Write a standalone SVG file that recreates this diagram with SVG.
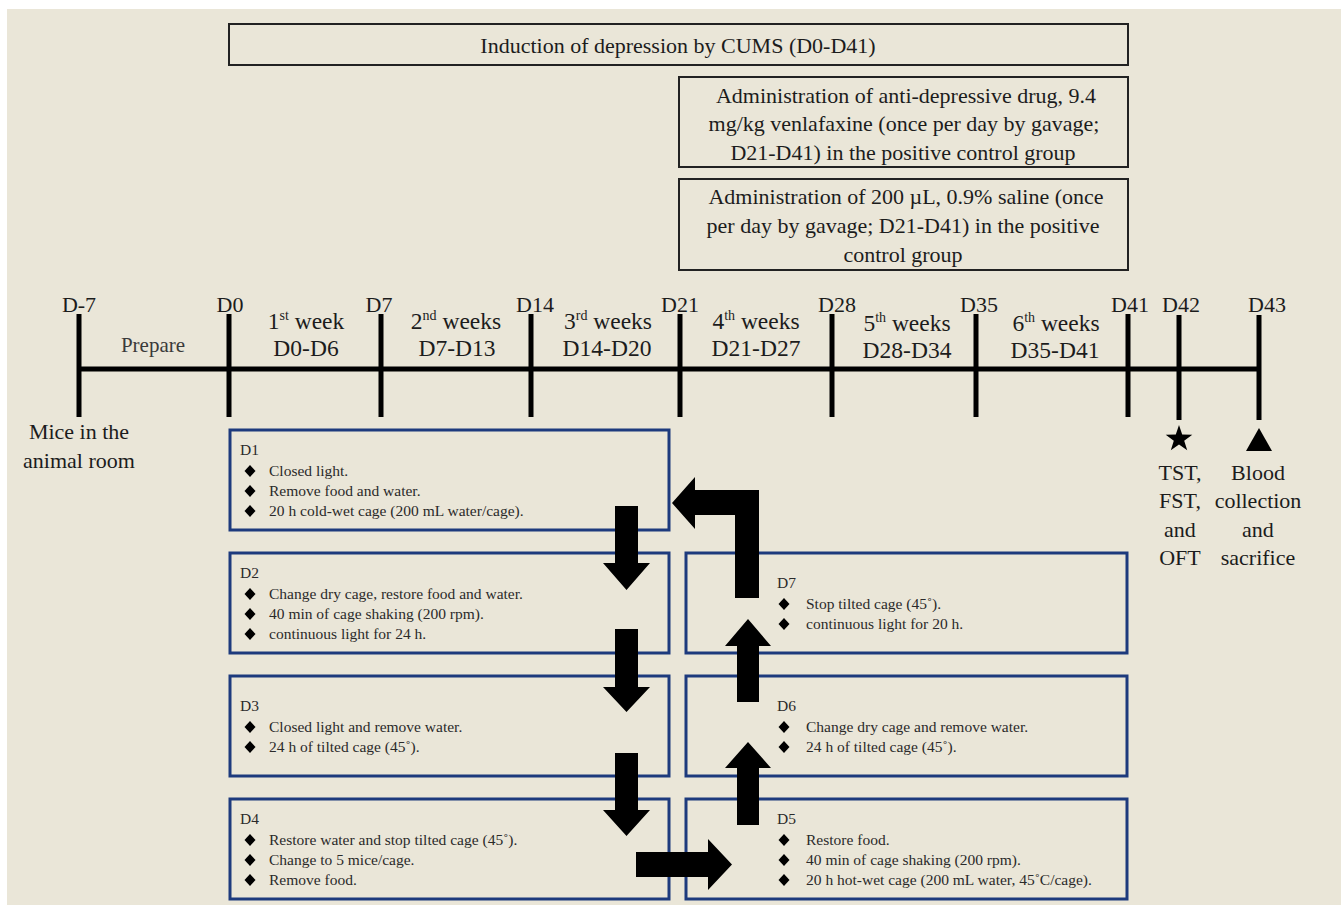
<svg xmlns="http://www.w3.org/2000/svg" width="1341" height="905" viewBox="0 0 1341 905">
<defs>
<style>
text{font-family:"Liberation Serif","Times New Roman",serif;fill:#1c1c1c}
.big{font-size:22px}
.wk{font-size:23.5px;text-anchor:middle}
.c{text-anchor:middle}
.sm{font-size:15.5px;fill:#2a2a2a}
.tbox{fill:none;stroke:#222;stroke-width:2}
.bbox{fill:none;stroke:#1d3a7d;stroke-width:3}
.tick{stroke:#000;stroke-width:5}
.arr{fill:#000}
</style>
<polygon id="dia" points="0,-6 5.5,0 0,6 -5.5,0" fill="#000"/>
</defs>
<rect x="0" y="0" width="1341" height="905" fill="#ffffff"/>
<rect x="7" y="9" width="1334" height="896" fill="#EAE6D8"/>

<g id="cums">
<rect class="tbox" x="229" y="24" width="899" height="41"/>
<text class="big c" x="678" y="53">Induction of depression by CUMS (D0-D41)</text>
</g>
<g id="drug">
<rect class="tbox" x="679" y="77" width="449" height="90"/>
<text class="big c" x="906" y="103">Administration of anti-depressive drug, 9.4</text>
<text class="big c" x="904" y="131">mg/kg venlafaxine (once per day by gavage;</text>
<text class="big c" x="903" y="160">D21-D41) in the positive control group</text>
</g>
<g id="saline">
<rect class="tbox" x="679" y="179" width="449" height="91"/>
<text class="big c" x="906" y="204">Administration of 200 µL, 0.9% saline (once</text>
<text class="big c" x="903" y="233">per day by gavage; D21-D41) in the positive</text>
<text class="big c" x="903" y="262">control group</text>
</g>

<g id="timeline">
<line class="tick" x1="79" y1="369" x2="1259" y2="369"/>
<line class="tick" x1="79" y1="314" x2="79" y2="417"/>
<line class="tick" x1="229" y1="314" x2="229" y2="417"/>
<line class="tick" x1="381" y1="314" x2="381" y2="417"/>
<line class="tick" x1="531" y1="314" x2="531" y2="417"/>
<line class="tick" x1="680" y1="314" x2="680" y2="417"/>
<line class="tick" x1="832" y1="314" x2="832" y2="417"/>
<line class="tick" x1="976" y1="314" x2="976" y2="417"/>
<line class="tick" x1="1128" y1="314" x2="1128" y2="417"/>
<line class="tick" x1="1179" y1="315" x2="1179" y2="420"/>
<line class="tick" x1="1259" y1="315" x2="1259" y2="420"/>
<text class="big c" x="79" y="312">D-7</text>
<text class="big c" x="230" y="312">D0</text>
<text class="big c" x="379" y="312">D7</text>
<text class="big c" x="535" y="312">D14</text>
<text class="big c" x="680" y="312">D21</text>
<text class="big c" x="837" y="312">D28</text>
<text class="big c" x="979" y="312">D35</text>
<text class="big c" x="1130" y="312">D41</text>
<text class="big c" x="1181" y="312">D42</text>
<text class="big c" x="1267" y="312">D43</text>
<text class="c" x="153" y="352" style="font-size:21px;fill:#3a3a3a">Prepare</text>
<text class="wk" x="306" y="329">1<tspan dy="-9" style="font-size:14px">st</tspan><tspan dy="9"> week</tspan></text>
<text class="wk" x="306" y="356">D0-D6</text>
<text class="wk" x="456" y="329">2<tspan dy="-9" style="font-size:14px">nd</tspan><tspan dy="9"> weeks</tspan></text>
<text class="wk" x="457" y="356">D7-D13</text>
<text class="wk" x="608" y="329">3<tspan dy="-9" style="font-size:14px">rd</tspan><tspan dy="9"> weeks</tspan></text>
<text class="wk" x="607" y="356">D14-D20</text>
<text class="wk" x="756" y="329">4<tspan dy="-9" style="font-size:14px">th</tspan><tspan dy="9"> weeks</tspan></text>
<text class="wk" x="756" y="356">D21-D27</text>
<text class="wk" x="907" y="331">5<tspan dy="-9" style="font-size:14px">th</tspan><tspan dy="9"> weeks</tspan></text>
<text class="wk" x="907" y="358">D28-D34</text>
<text class="wk" x="1056" y="331">6<tspan dy="-9" style="font-size:14px">th</tspan><tspan dy="9"> weeks</tspan></text>
<text class="wk" x="1055" y="358">D35-D41</text>
</g>

<g id="mice">
<text class="big c" x="79" y="439">Mice in the</text>
<text class="big c" x="79" y="468">animal room</text>
</g>
<g id="tests">
<polygon points="1179,425 1182.2,434.6 1192.3,434.7 1184.2,440.7 1187.2,450.3 1179,444.5 1170.8,450.3 1173.8,440.7 1165.7,434.7 1175.8,434.6" fill="#000"/>
<text class="big c" x="1180" y="480">TST,</text>
<text class="big c" x="1180" y="508">FST,</text>
<text class="big c" x="1180" y="537">and</text>
<text class="big c" x="1180" y="565">OFT</text>
</g>
<g id="sacrifice">
<polygon points="1259,428 1272,451 1246,451" fill="#000"/>
<text class="big c" x="1258" y="480">Blood</text>
<text class="big c" x="1258" y="508">collection</text>
<text class="big c" x="1258" y="537">and</text>
<text class="big c" x="1258" y="565">sacrifice</text>
</g>

<g id="d1">
<rect class="bbox" x="230" y="430" width="439" height="100"/>
<text class="sm" x="240" y="455">D1</text>
<use href="#dia" x="250" y="471"/><text class="sm" x="269" y="476">Closed light.</text>
<use href="#dia" x="250" y="491"/><text class="sm" x="269" y="496">Remove food and water.</text>
<use href="#dia" x="250" y="511"/><text class="sm" x="269" y="516">20 h cold-wet cage (200 mL water/cage).</text>
</g>
<g id="d2">
<rect class="bbox" x="230" y="553" width="439" height="100"/>
<text class="sm" x="240" y="578">D2</text>
<use href="#dia" x="250" y="594"/><text class="sm" x="269" y="599">Change dry cage, restore food and water.</text>
<use href="#dia" x="250" y="614"/><text class="sm" x="269" y="619">40 min of cage shaking (200 rpm).</text>
<use href="#dia" x="250" y="634"/><text class="sm" x="269" y="639">continuous light for 24 h.</text>
</g>
<g id="d3">
<rect class="bbox" x="230" y="676" width="439" height="100"/>
<text class="sm" x="240" y="711">D3</text>
<use href="#dia" x="250" y="727"/><text class="sm" x="269" y="732">Closed light and remove water.</text>
<use href="#dia" x="250" y="747"/><text class="sm" x="269" y="752">24 h of tilted cage (45˚).</text>
</g>
<g id="d4">
<rect class="bbox" x="230" y="799" width="439" height="100"/>
<text class="sm" x="240" y="824">D4</text>
<use href="#dia" x="250" y="840"/><text class="sm" x="269" y="845">Restore water and stop tilted cage (45˚).</text>
<use href="#dia" x="250" y="860"/><text class="sm" x="269" y="865">Change to 5 mice/cage.</text>
<use href="#dia" x="250" y="880"/><text class="sm" x="269" y="885">Remove food.</text>
</g>
<g id="d7">
<rect class="bbox" x="686" y="553" width="441" height="100"/>
<text class="sm" x="777" y="588">D7</text>
<use href="#dia" x="784" y="604"/><text class="sm" x="806" y="609">Stop tilted cage (45˚).</text>
<use href="#dia" x="784" y="624"/><text class="sm" x="806" y="629">continuous light for 20 h.</text>
</g>
<g id="d6">
<rect class="bbox" x="686" y="676" width="441" height="100"/>
<text class="sm" x="777" y="711">D6</text>
<use href="#dia" x="784" y="727"/><text class="sm" x="806" y="732">Change dry cage and remove water.</text>
<use href="#dia" x="784" y="747"/><text class="sm" x="806" y="752">24 h of tilted cage (45˚).</text>
</g>
<g id="d5">
<rect class="bbox" x="686" y="799" width="441" height="100"/>
<text class="sm" x="777" y="824">D5</text>
<use href="#dia" x="784" y="840"/><text class="sm" x="806" y="845">Restore food.</text>
<use href="#dia" x="784" y="860"/><text class="sm" x="806" y="865">40 min of cage shaking (200 rpm).</text>
<use href="#dia" x="784" y="880"/><text class="sm" x="806" y="885">20 h hot-wet cage (200 mL water, 45˚C/cage).</text>
</g>

<g id="connectors">
<path class="arr" d="M615,506 L638,506 L638,563 L650,563 L626.5,590 L603,563 L615,563 Z"/>
<path class="arr" d="M615,629 L638,629 L638,687 L650,687 L626.5,712 L603,687 L615,687 Z"/>
<path class="arr" d="M615,753 L638,753 L638,810 L650,810 L626.5,836 L603,810 L615,810 Z"/>
<path class="arr" d="M636,852 L708,852 L708,839 L732,864.5 L708,890 L708,877 L636,877 Z"/>
<path class="arr" d="M737,825 L759,825 L759,768 L771,768 L748,742 L725,768 L737,768 Z"/>
<path class="arr" d="M737,702 L759,702 L759,646 L771,646 L748,619 L725,646 L737,646 Z"/>
<path class="arr" d="M735,598 L735,515 L695,515 L695,529 L672,503 L695,477 L695,490 L759,490 L759,598 Z"/>
</g>
</svg>
